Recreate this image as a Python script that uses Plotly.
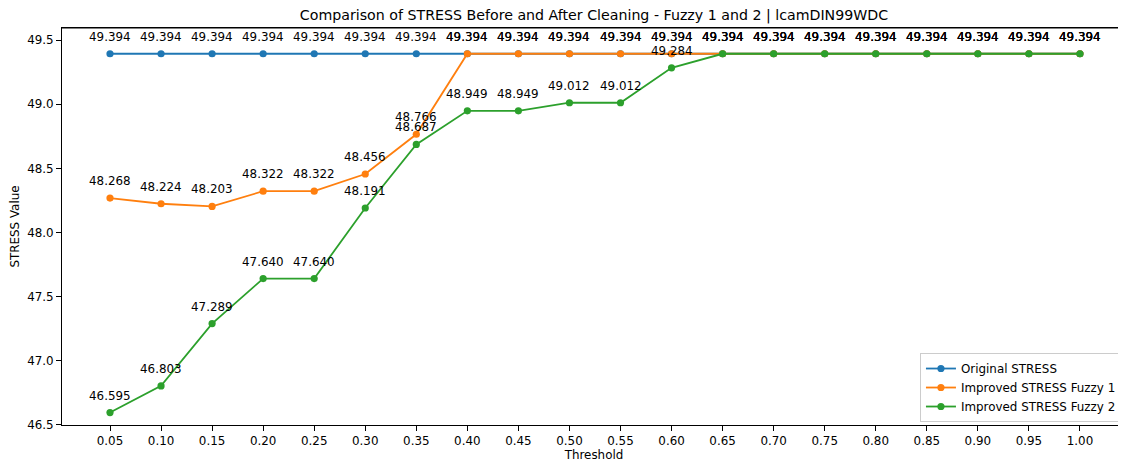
import plotly.graph_objects as go

thresholds = [0.05, 0.10, 0.15, 0.20, 0.25, 0.30, 0.35, 0.40, 0.45, 0.50,
              0.55, 0.60, 0.65, 0.70, 0.75, 0.80, 0.85, 0.90, 0.95, 1.00]
original_stress = [49.394] * 20
fuzzy1_stress = [48.268, 48.224, 48.203, 48.322, 48.322, 48.456, 48.766,
                 49.394, 49.394, 49.394, 49.394, 49.394, 49.394, 49.394,
                 49.394, 49.394, 49.394, 49.394, 49.394, 49.394]
fuzzy2_stress = [46.595, 46.803, 47.289, 47.640, 47.640, 48.191, 48.687,
                 48.949, 48.949, 49.012, 49.012, 49.284, 49.394, 49.394,
                 49.394, 49.394, 49.394, 49.394, 49.394, 49.394]
x_tick_labels = [f"{t:.2f}" for t in thresholds]
y_ticks = [46.5, 47.0, 47.5, 48.0, 48.5, 49.0, 49.5]

series = [
    ("Original STRESS", original_stress, "#1f77b4"),
    ("Improved STRESS Fuzzy 1", fuzzy1_stress, "#ff7f0e"),
    ("Improved STRESS Fuzzy 2", fuzzy2_stress, "#2ca02c"),
]

FONT = "DejaVu Sans"
FS = 11.9
W, H = 1118, 457  # page body has an 8px margin

fig = go.Figure()
annotations = []
for name, vals, color in series:
    fig.add_trace(go.Scatter(
        x=thresholds, y=vals, name=name, mode="lines+markers",
        line=dict(color=color, width=1.8),
        marker=dict(color=color, size=7.2),
    ))
    for x, y in zip(thresholds, vals):
        annotations.append(dict(
            x=x, y=y, xref="x", yref="y", text=f"{y:.3f}",
            showarrow=False, xanchor="center", yanchor="bottom", yshift=8,
            font=dict(family=FONT, size=FS, color="black"),
        ))

fig.update_layout(
    width=W, height=H,
    margin=dict(l=54, r=0, t=20, b=40, autoexpand=False),
    paper_bgcolor="white", plot_bgcolor="white",
    font=dict(family=FONT, size=FS, color="black"),
    title=dict(
        text="Comparison of STRESS Before and After Cleaning - Fuzzy 1 and 2 | lcamDIN99WDC",
        x=0.5, xref="paper", xanchor="center",
        y=1 - 7 / H, yref="container", yanchor="middle",
        font=dict(family=FONT, size=14.2, color="black"),
    ),
    annotations=annotations,
    legend=dict(
        x=0.9962, y=0.0075, xanchor="right", yanchor="bottom",
        bgcolor="rgba(255,255,255,0.8)", bordercolor="#cccccc", borderwidth=1,
        font=dict(family=FONT, size=FS, color="black"),
    ),
    showlegend=True,
    shapes=[dict(type="line", xref="paper", yref="paper", x0=0, x1=1, y0=1, y1=1,
                 line=dict(color="black", width=1), layer="above")],
)

fig.update_xaxes(
    range=[0.00299, 1.0451], automargin=False,
    tickmode="array", tickvals=thresholds, ticktext=x_tick_labels,
    showgrid=False, zeroline=False,
    showline=True, linecolor="black", linewidth=1, mirror=True,
    ticks="outside", ticklen=5, tickcolor="black", tickwidth=1,
    title=dict(text="Threshold", font=dict(family=FONT, size=FS), standoff=3),
)
fig.update_yaxes(
    range=[46.498, 49.595], automargin=False,
    tickmode="array", tickvals=y_ticks, ticktext=[f"{v:.1f}" for v in y_ticks],
    showgrid=False, zeroline=False,
    showline=True, linecolor="black", linewidth=1, mirror=False,
    ticks="outside", ticklen=5, tickcolor="black", tickwidth=1,
    title=dict(text="STRESS Value", font=dict(family=FONT, size=FS), standoff=5),
)

fig.write_html("out.html")
